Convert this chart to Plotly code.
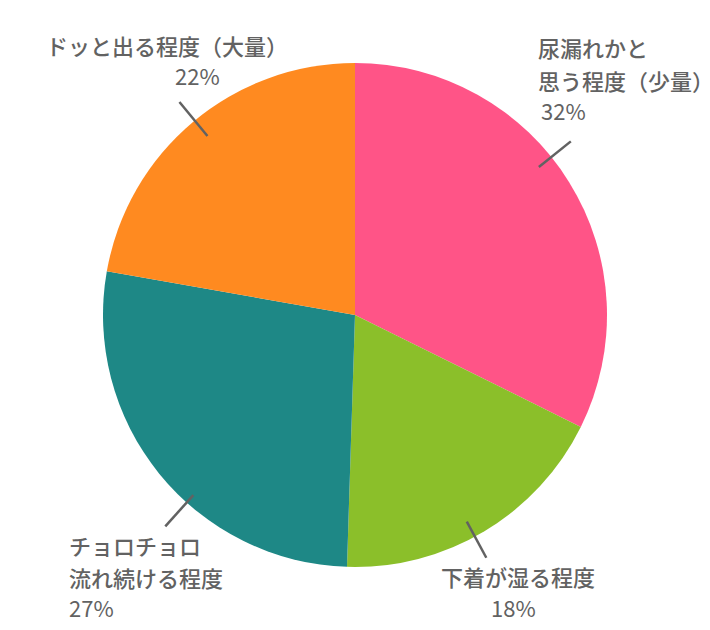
import math
import plotly.graph_objects as go

# slice data, clockwise from 12 o'clock
labels = ["尿漏れかと<br>思う程度（少量）", "下着が湿る程度", "チョロチョロ<br>流れ続ける程度", "ドッと出る程度（大量）"]
values = [32, 18, 27, 22]
colours = ["#FF5487", "#8BBF2A", "#1E8886", "#FF8A20"]

# the page body has an 8px margin, so the figure is a bit smaller than the window
PAGE = 8
W, H = 694, 614
M = dict(l=0, r=0, t=55, b=55)
CX = PAGE + M["l"] + (W - M["l"] - M["r"]) / 2
CY = PAGE + M["t"] + (H - M["t"] - M["b"]) / 2

TEXT = "#626262"
FONT = "Noto Sans CJK JP"

# leader line tweak (deg, inner r, outer r) and text placement per slice (window px)
leader = [(-7, 236, 277), (2.5, 235, 276), (-9, 242, 284), (0.5, 232, 276)]
text_pos = [
    [(537, 47, "left"), (537, 80, "left"), (540, 110, "left")],
    [(518, 576, "center"), (513, 607, "center")],
    [(68, 545, "left"), (68, 577, "left"), (68, 607, "left")],
    [(167, 45, "center"), (198, 75, "center")],
]


def px(x, y):
    x, y = x - PAGE, y - PAGE
    return ((x - M["l"]) / (W - M["l"] - M["r"]),
            1 - (y - M["t"]) / (H - M["t"] - M["b"]))


fig = go.Figure(go.Pie(
    labels=labels, values=values,
    marker=dict(colors=colours, line=dict(width=0)),
    sort=False, direction="clockwise", rotation=0,
    textinfo="none", hoverinfo="label+percent",
    showlegend=False,
))

total = sum(values)
acc = 0
for i, v in enumerate(values):
    mid = (acc + v / 2) / total * 360
    acc += v
    off, r0, r1 = leader[i]
    a = math.radians(mid + off)
    x0, y0 = px(CX + r0 * math.sin(a), CY - r0 * math.cos(a))
    x1, y1 = px(CX + r1 * math.sin(a), CY - r1 * math.cos(a))
    fig.add_shape(type="line", xref="paper", yref="paper",
                  x0=x0, y0=y0, x1=x1, y1=y1,
                  line=dict(color=TEXT, width=2.5))

    pct = f"{round(v / total * 100)}%"
    lines = labels[i].split("<br>") + [pct]
    for j, ((tx, ty, al), s) in enumerate(zip(text_pos[i], lines)):
        ax, ay = px(tx, ty)
        is_pct = j == len(lines) - 1
        fig.add_annotation(xref="paper", yref="paper", x=ax, y=ay,
                           text=s, showarrow=False, xanchor=al, yanchor="middle",
                           borderpad=0,
                           font=dict(family=FONT, size=22,
                                     color=TEXT, weight=400 if is_pct else 500))

fig.update_layout(
    width=W, height=H, margin=M,
    paper_bgcolor="white", plot_bgcolor="white",
)

fig.write_html("out.html")
